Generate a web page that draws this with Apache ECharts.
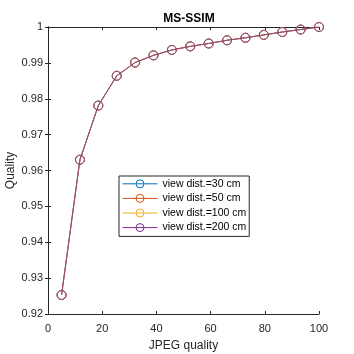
<!DOCTYPE html>
<html lang="en">
<head>
    <meta charset="UTF-8">
    <title>MS-SSIM</title>
    <script src="https://cdn.jsdelivr.net/npm/echarts@6/dist/echarts.min.js"></script>
    <style>
        html, body { margin: 0; padding: 0; background: #fff; }
    </style>
</head>
<body>
<div id="main" style="width: 354px;height:354px;"></div>
</body>
<script type="text/javascript">

    // JPEG quality settings (x)
    var quality = [5, 11.79, 18.57, 25.36, 32.14, 38.93, 45.71, 52.5, 59.29, 66.07, 72.86, 79.64, 86.43, 93.21, 100];

    // MS-SSIM per viewing distance (all four curves overlap)
    var dist30  = [0.9253, 0.9630, 0.9781, 0.9864, 0.9901, 0.9921, 0.9936, 0.9946, 0.9954, 0.9963, 0.9970, 0.9978, 0.9986, 0.9993, 1.0];
    var dist50  = [0.9253, 0.9630, 0.9781, 0.9864, 0.9901, 0.9921, 0.9936, 0.9946, 0.9954, 0.9963, 0.9970, 0.9978, 0.9986, 0.9993, 1.0];
    var dist100 = [0.9253, 0.9630, 0.9781, 0.9864, 0.9901, 0.9921, 0.9936, 0.9946, 0.9954, 0.9963, 0.9970, 0.9978, 0.9986, 0.9993, 1.0];
    var dist200 = [0.9253, 0.9630, 0.9781, 0.9864, 0.9901, 0.9921, 0.9936, 0.9946, 0.9954, 0.9963, 0.9970, 0.9978, 0.9986, 0.9993, 1.0];

    var names = ['view dist.=30 cm', 'view dist.=50 cm', 'view dist.=100 cm', 'view dist.=200 cm'];
    var colors = ['#0072BD', '#D95319', '#EDB120', '#7E2F8E'];
    var values = [dist30, dist50, dist100, dist200];

    var font = 'Liberation Sans, Arial, Helvetica, sans-serif';
    var axisColor = '#262626';
    var clear = 'rgba(255,255,255,0)';

    function pairs(ys) {
        var out = [];
        for (var i = 0; i < quality.length; i++) {
            out.push([quality[i], ys[i]]);
        }
        return out;
    }

    // the last curve sits exactly on top of the others, so only it shows;
    // the covered ones keep their own colour in the legend
    var series = [];
    var legendData = [];
    for (var k = 0; k < names.length; k++) {
        var top = (k === names.length - 1);
        series.push({
            name: names[k],
            type: 'line',
            data: pairs(values[k]),
            symbol: 'circle',
            symbolSize: 9,
            showAllSymbol: true,
            z: 2 + k,
            lineStyle: {width: 0.8, color: top ? colors[k] : clear},
            itemStyle: {color: clear, borderColor: top ? colors[k] : clear, borderWidth: 0.8},
            emphasis: {disabled: true},
            animation: false
        });
        legendData.push({
            name: names[k],
            lineStyle: {color: colors[k], width: 1, opacity: 1},
            itemStyle: {color: clear, borderColor: colors[k], borderWidth: 1, opacity: 1}
        });
    }

    var axisCommon = {
        axisLine: {show: true, lineStyle: {color: axisColor, width: 1}},
        axisTick: {show: true, inside: true, length: 3, lineStyle: {color: axisColor}},
        splitLine: {show: false}
    };

    var myChart = echarts.init(document.getElementById('main'));
    var option = {
        backgroundColor: '#fff',
        animation: false,
        title: {
            text: 'MS-SSIM',
            left: 184,
            top: 8,
            textAlign: 'center',
            textStyle: {fontFamily: font, fontSize: 12, fontWeight: 'bold', color: '#000'}
        },
        grid: {left: 48, right: 35, top: 27, bottom: 40, outerBoundsMode: 'none', containLabel: false},
        legend: {
            data: legendData,
            orient: 'vertical',
            left: 119,
            top: 176,
            itemWidth: 35,
            itemHeight: 10,
            itemGap: 1,
            padding: [1, 3, 2, 3],
            backgroundColor: '#fff',
            borderColor: axisColor,
            borderWidth: 1,
            borderRadius: 0,
            textStyle: {fontFamily: font, fontSize: 10.5, color: '#000', lineHeight: 13.6}
        },
        xAxis: [
            Object.assign({
                type: 'value', min: 0, max: 100, interval: 20,
                name: 'JPEG quality', nameLocation: 'middle', nameGap: 26, nameMoveOverlap: false,
                nameTextStyle: {fontFamily: font, fontSize: 12, color: axisColor},
                axisLabel: {fontFamily: font, fontSize: 11, color: axisColor, margin: 9}
            }, axisCommon),
            Object.assign({
                type: 'value', min: 0, max: 100, interval: 20, position: 'top',
                axisLabel: {show: false}
            }, axisCommon)
        ],
        yAxis: [
            Object.assign({
                type: 'value', min: 0.92, max: 1, interval: 0.01,
                name: 'Quality', nameLocation: 'middle', nameGap: 31, nameMoveOverlap: false,
                nameTextStyle: {fontFamily: font, fontSize: 12, color: axisColor},
                axisLabel: {
                    fontFamily: font, fontSize: 11, color: axisColor, margin: 5,
                    formatter: function (v) { return String(+v.toFixed(2)); }
                }
            }, axisCommon),
            Object.assign({
                type: 'value', min: 0.92, max: 1, interval: 0.01, position: 'right',
                axisLabel: {show: false}
            }, axisCommon)
        ],
        series: series
    };
    myChart.setOption(option);

</script>
</html>
